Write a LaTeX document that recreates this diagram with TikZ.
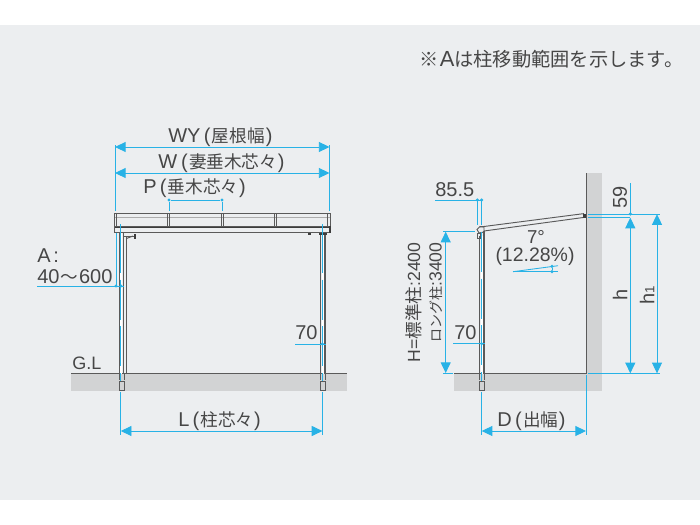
\documentclass[tikz,border=0pt]{standalone}
\usepackage{fontspec}
\setmainfont{Liberation Sans}
\newfontfamily\jp[Scale=0.88]{Noto Sans CJK JP}
\newfontfamily\jpv{Noto Sans CJK JP}
\usetikzlibrary{arrows.meta}
\definecolor{bgc}{RGB}{236,238,240}
\definecolor{gnd}{RGB}{210,211,212}
\definecolor{dim}{RGB}{40,178,230}
\definecolor{ink}{RGB}{70,70,70}
\definecolor{frame}{RGB}{90,90,90}
\definecolor{darkframe}{RGB}{60,60,60}
\tikzset{
 x=0.75pt,y=-0.75pt,
 dimline/.style={draw=dim,line width=0.65pt},
 dimarrow/.style={dimline,{Triangle[length=8pt,width=7.5pt]}-{Triangle[length=8pt,width=7.5pt]}},
 label/.style={text=ink,inner sep=0pt,font=\fontsize{15pt}{16pt}\selectfont},
 vsmall/.style={text=ink,inner sep=0pt,rotate=90,font=\fontsize{13.2pt}{14pt}\selectfont},
 vlabel/.style={label,rotate=90},
 frameline/.style={draw=frame,line width=0.7pt},
 thinframe/.style={draw=frame!50,line width=0.5pt},
 heavyframe/.style={draw=darkframe,line width=1pt},
 dotmark/.style={circle,fill=dim,inner sep=0pt,minimum size=2.6pt},
 postcore/.style={draw=white,line width=1.6pt},
 postdim/.style={draw=dim,line width=0.65pt,dash pattern=on 30pt off 5pt},
}
\begin{document}
\begin{tikzpicture}
\useasboundingbox (0,0) rectangle (700,525);
\fill[white] (0,0) rectangle (700,525);
\fill[bgc] (0,25) rectangle (700,500);
% ground and wall
\fill[gnd] (71,374) rectangle (347,391);
\fill[gnd] (454,374) rectangle (602,391);
\fill[gnd] (586,173) rectangle (602,391);
\draw[frameline] (71,373.7) -- (347,373.7);
\draw[frameline] (454,373.7) -- (586,373.7) -- (586,173);
% front roof
\draw[frameline] (114.5,213.3) -- (330,213.3);
\draw[thinframe] (114.5,217) -- (330,217);
\draw[frameline] (114.5,226) -- (330,226);
\draw[heavyframe] (114.5,227.5) -- (330.5,227.5);
\draw[frameline] (114.5,232.8) -- (330,232.8);
\draw[frameline] (114.5,213.3) -- (114.5,232.8);
\draw[heavyframe] (330,226) -- (330,233);
\foreach \x in {116.5,167.3,169.5,221,223,274.5,276.5,327.5,330}{\draw[frameline] (\x,213.3) -- (\x,226);}
% front left post
\draw[postcore] (121,233) -- (121,374);
\draw[frameline] (119,233) -- (119,374);
\draw[frameline] (123.5,233) -- (123.5,374);
\draw[frameline] (126.5,237) -- (126.5,374);
\draw[frameline] (123.5,236) -- (135,236);
\draw[frameline] (126.5,238.5) -- (133,236);
\fill[darkframe] (133.5,233.5) rectangle (136,238.5);
\draw[frameline] (119.3,374) -- (119.3,380) (124,374) -- (124,380);
\draw[frameline] (119.3,381.5) rectangle (124,390);
% front right post
\draw[postcore] (322.6,233) -- (322.6,374);
\draw[frameline,line width=1.1pt] (320.7,233) -- (320.7,374);
\draw[frameline,line width=1.1pt] (325,233) -- (325,374);
\fill[darkframe] (308,232.5) rectangle (311,234.5);
\fill[darkframe] (319,232.5) rectangle (327,234.5);
\draw[frameline] (320.7,374) -- (320.7,380) (325,374) -- (325,380);
\draw[frameline] (320.7,381.5) rectangle (325.5,390);
% side post and rafter
\draw[postcore] (481.7,236) -- (481.7,374);
\draw[frameline,line width=1.1pt] (479.5,236) -- (479.5,374);
\draw[frameline,line width=1.1pt] (484,231) -- (484,374);
\draw[frameline] (479.5,374) -- (479.5,380) (484,374) -- (484,380);
\draw[frameline] (479.7,381.5) rectangle (484,390);
\draw[frameline] (480,227) -- (584,213.6);
\draw[frameline] (484,231) -- (584,217.4);
\fill[darkframe] (582.5,213.5) rectangle (586,218);
\draw[frameline] (479,233) -- (477,229.5) -- (480,226.5) -- (484,227) -- (484,232) -- cycle;
\draw[frameline] (477,233) rectangle (480,238);
% front dims
\coordinate (wyL) at (115,147); \coordinate (wyR) at (329.5,147);
\coordinate (wL) at (115,173); \coordinate (wR) at (329.5,173);
\draw[dimarrow] (wyL) -- (wyR);
\draw[dimarrow] (wL) -- (wR);
\draw[dimline] (115,145) -- (115,211);
\draw[dimline] (329.5,145) -- (329.5,211);
\node[dotmark] (pL) at (169,200) {};
\node[dotmark] (pR) at (222,200) {};
\draw[dimline] (pL) -- (pR) (pL) -- (169,211) (pR) -- (222,211);
\node[label,anchor=west] at (168,137) {WY\hspace{2.5pt}(\hspace{1pt}{\jp 屋根幅}\hspace{1pt})};
\node[label,anchor=west] at (158,163) {W\hspace{3pt}(\hspace{1pt}{\jp 妻垂木芯々}\hspace{0.5pt})};
\node[label,anchor=west] at (143,188.5) {P\hspace{2.5pt}(\hspace{1pt}{\jp 垂木芯々}\hspace{0.5pt})};
% A
\node[label,anchor=west] at (37,255.5) {A\hspace{2pt}:};
\node[label,anchor=west] at (37,276.5) {40\hspace{1pt}{\jp 〜}\hspace{0.5pt}600};
\draw[dimline] (37,286) -- (124,286);
\draw[dimline] (116,233) -- (116,286);
\node[dotmark] at (116,286) {};
\node[dotmark] at (121,286) {};
\draw[dimline] (120.8,224) -- (120.8,233);
\draw[postdim] (120.8,233) -- (120.8,381);
\draw[dimline] (120.8,392) -- (120.8,435);
\draw[dimline] (322.4,224) -- (322.4,233);
\draw[postdim] (322.4,233) -- (322.4,381);
\draw[dimline] (322.4,392) -- (322.4,435);
\draw[dimarrow] (120.8,431) -- (322.4,431);
\node[label,anchor=west] at (178,421) {L\hspace{2.5pt}(\hspace{1pt}{\jp 柱芯々}\hspace{0.5pt})};
\node[label,anchor=west] at (295,333) {70};
\draw[dimline] (295,344) -- (326,344);
\node[dotmark] at (322.4,344) {};
\node[label,anchor=west,font=\fontsize{13.5pt}{14pt}\selectfont] at (72,363) {G.L};
% top note
\node[label,anchor=west,font=\fontsize{16.4pt}{17pt}\selectfont] at (419,59.5) {{\jp ※}\hspace{1pt}A{\jp は柱移動範囲を示します。}};
% side dims
\node[label,anchor=west] at (435,190) {85.5};
\draw[dimline] (435,200) -- (482,200);
\draw[dimline] (477.3,200) -- (477.3,225) (481.7,200) -- (481.7,225);
\node[dotmark] at (477.3,200) {}; \node[dotmark] at (481.7,200) {};
\draw[dimline] (443,231.7) -- (475,231.7);
\draw[dimarrow] (445.7,231.7) -- (445.7,373);
\draw[dimline] (443,373.3) -- (453,373.3);
\node[vsmall] at (413.5,302.5) {H={\jpv 標準柱}:2400};
\node[vsmall] at (436,292.5) {{\jpv\fontsize{10.5pt}{11pt}\selectfont ロング柱}:3400};
\node[label,anchor=west] at (454,333) {70};
\draw[dimline] (453,343.7) -- (485,343.7);
\node[dotmark] at (481.7,343.7) {};
\draw[postdim] (481.7,232) -- (481.7,381);
\draw[dimline] (481.7,392) -- (481.7,435);
\draw[dimline] (586,375) -- (586,435);
\draw[dimarrow] (481.7,431) -- (586,431);
\node[label,anchor=west] at (497,421) {D\hspace{2.5pt}(\hspace{1pt}{\jp 出幅}\hspace{0.5pt})};
% angle
\node[label,font=\fontsize{14pt}{15pt}\selectfont] at (536,237) {7°};
\node[label,font=\fontsize{14.6pt}{15pt}\selectfont] at (535,256) {(12.28\%)};
\draw[dimline] (513,271.7) -- (558,265.7);
\draw[dimline] (513,271.7) -- (558,271.7);
\node[dotmark] (aT) at (552,266.4) {}; \node[dotmark] (aB) at (552,271.7) {};
\draw[dimline] (aT) -- (aB);
% right dims
\draw[dimline] (588,214) -- (660,214);
\draw[dimline] (588,217.4) -- (630.3,217.4);
\draw[dimline] (630.3,183) -- (630.3,214);
\node[dotmark] at (630.3,214) {};
\draw[dimline] (588,373.3) -- (660,373.3);
\draw[dimarrow] (630.3,217.6) -- (630.3,373.3);
\draw[dimarrow] (657,214.2) -- (657,373.3);
\node[vlabel] at (620,197) {59};
\node[vlabel] at (620,295) {h};
\node[vlabel] at (647,295) {h{\fontsize{10pt}{10pt}\selectfont 1}};
\end{tikzpicture}
\end{document}
